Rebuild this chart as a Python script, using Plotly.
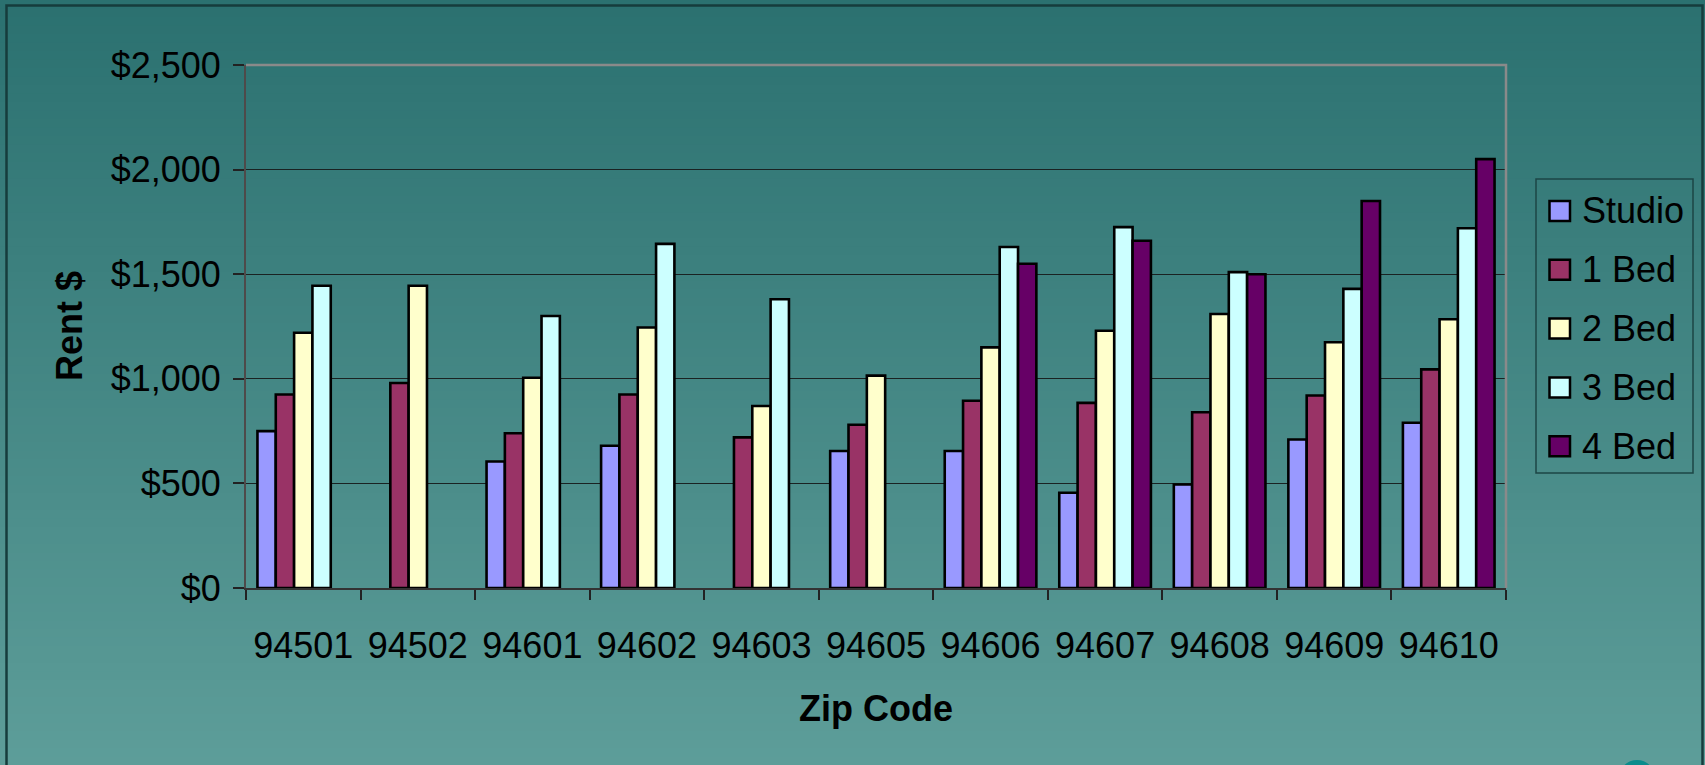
import plotly.graph_objects as go

# ---- data ----
zip_codes = ["94501", "94502", "94601", "94602", "94603", "94605",
             "94606", "94607", "94608", "94609", "94610"]
studio = [750, None, 605, 680, None, 655, 655, 455, 495, 710, 790]
bed_1 = [925, 980, 740, 925, 720, 780, 895, 885, 840, 920, 1045]
bed_2 = [1220, 1445, 1005, 1245, 870, 1015, 1150, 1230, 1310, 1175, 1285]
bed_3 = [1445, None, 1300, 1645, 1380, None, 1630, 1725, 1510, 1430, 1720]
bed_4 = [None, None, None, None, None, None, 1550, 1660, 1500, 1850, 2050]
series_names = ["Studio", "1 Bed", "2 Bed", "3 Bed", "4 Bed"]
series_colors = ["#9999FF", "#993366", "#FFFFCC", "#CCFFFF", "#660066"]
y_ticks = [0, 500, 1000, 1500, 2000, 2500]

series_values = [studio, bed_1, bed_2, bed_3, bed_4]

# ---- page geometry (pixels) ----
W, H = 1705, 765
L, R, T, B = 246, 1506, 65, 588          # plot box
FONT = "Liberation Sans, Arial, sans-serif"


def px_x(x):
    return (x - L) / (R - L)


def px_y(y):
    return (B - y) / (B - T)


fig = go.Figure()
for name, vals, col in zip(series_names, series_values, series_colors):
    fig.add_trace(go.Bar(
        name=name, x=zip_codes, y=vals,
        marker=dict(color=col, line=dict(color="black", width=2.6)),
        showlegend=False,
    ))

shapes = []

# vertical teal gradient behind everything
top_rgb = (43, 113, 112)
bot_rgb = (93, 157, 153)
n_strips = 90
for i in range(n_strips):
    t = i / (n_strips - 1)
    c = tuple(round(a + (b - a) * t) for a, b in zip(top_rgb, bot_rgb))
    y0 = H * i / n_strips
    y1 = H * (i + 1) / n_strips + 1
    shapes.append(dict(
        type="rect", xref="paper", yref="paper", layer="below",
        x0=px_x(-5), x1=px_x(W + 5), y0=px_y(y1), y1=px_y(y0),
        fillcolor="rgb(%d,%d,%d)" % c, line=dict(width=0),
    ))

# outer frame of the chart area
shapes.append(dict(
    type="rect", xref="paper", yref="paper", layer="below",
    x0=px_x(6.5), x1=px_x(1702.5), y0=px_y(800), y1=px_y(5.5),
    line=dict(color="#163c3c", width=2.5), fillcolor="rgba(0,0,0,0)",
))

# small decorative teal blob at the lower right corner
shapes.append(dict(
    type="circle", xref="paper", yref="paper", layer="below",
    x0=px_x(1619), x1=px_x(1655), y0=px_y(796), y1=px_y(760),
    fillcolor="#0b8c8c", line=dict(width=0),
))

# grey border on top and right of the plot box
shapes.append(dict(
    type="path", xref="paper", yref="paper", layer="above",
    path="M 0,1 L 1,1 L 1,0", line=dict(color="#8a8a8a", width=2.5),
))

annotations = []

# legend drawn as boxes + labels
leg_x0, leg_x1, leg_y0, leg_y1 = 1536, 1693, 179, 473
shapes.append(dict(
    type="rect", xref="paper", yref="paper", layer="above",
    x0=px_x(leg_x0), x1=px_x(leg_x1), y0=px_y(leg_y1), y1=px_y(leg_y0),
    line=dict(color="#1c4646", width=1.5), fillcolor="rgba(0,0,0,0)",
))
for i, (name, col) in enumerate(zip(series_names, series_colors)):
    cy = leg_y0 + 32 + i * 58.8
    shapes.append(dict(
        type="rect", xref="paper", yref="paper", layer="above",
        x0=px_x(1549.5), x1=px_x(1570), y0=px_y(cy + 10), y1=px_y(cy - 10),
        fillcolor=col, line=dict(color="black", width=2.5),
    ))
    annotations.append(dict(
        text=name, xref="paper", yref="paper", showarrow=False,
        x=px_x(1580), y=px_y(cy), xanchor="left", yanchor="middle",
        font=dict(family=FONT, size=36, color="black"),
    ))

# axis titles
annotations.append(dict(
    text="<b>Rent $</b>", xref="paper", yref="paper", showarrow=False,
    x=px_x(69.5), y=px_y(326.5), xanchor="center", yanchor="middle",
    textangle=-90, font=dict(family=FONT, size=36, color="black"),
))
annotations.append(dict(
    text="<b>Zip Code</b>", xref="paper", yref="paper", showarrow=False,
    x=px_x(876), y=px_y(708), xanchor="center", yanchor="middle",
    font=dict(family=FONT, size=36, color="black"),
))

fig.update_layout(
    width=W, height=H,
    margin=dict(l=L, r=W - R, t=T, b=H - B, pad=0),
    paper_bgcolor="rgb(68,134,132)",
    plot_bgcolor="rgba(0,0,0,0)",
    barmode="group", bargap=0.2, bargroupgap=0,
    font=dict(family=FONT, size=36, color="black"),
    shapes=shapes, annotations=annotations,
    showlegend=False,
)
fig.update_xaxes(
    type="category", categoryorder="array", categoryarray=zip_codes,
    range=[-0.5, len(zip_codes) - 0.5],
    showgrid=False, zeroline=False,
    showline=True, linecolor="#333333", linewidth=2,
    ticks="outside", tickson="boundaries", ticklen=10, tickwidth=1.5,
    tickcolor="#222222", ticklabelstandoff=25,
    tickfont=dict(family=FONT, size=36, color="black"),
)
fig.update_yaxes(
    range=[0, 2500], tickvals=y_ticks, tickformat="$,.0f",
    showgrid=True, gridcolor="#1a2222", gridwidth=1.4, zeroline=False,
    showline=True, linecolor="#4e4a4a", linewidth=2,
    ticks="outside", ticklen=11, tickwidth=1.5, tickcolor="#222222",
    ticklabelstandoff=5,
    tickfont=dict(family=FONT, size=36, color="black"),
)

fig.write_html("out.html")
